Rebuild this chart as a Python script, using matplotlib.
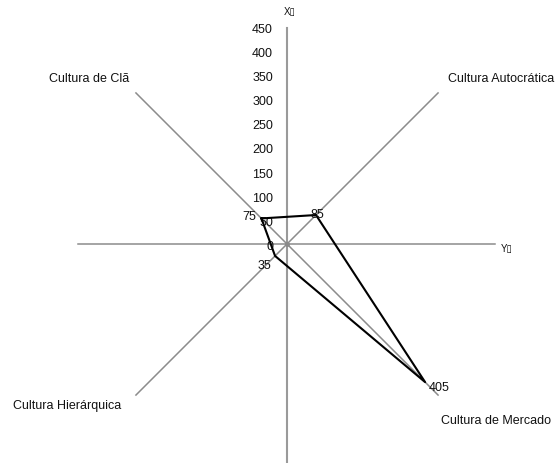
import numpy as np
import matplotlib
matplotlib.use("Agg")
import matplotlib.pyplot as plt

plt.rcParams["font.family"] = ["Liberation Sans", "DejaVu Sans"]

# Data
categories = ["Cultura de Clã", "Cultura Autocrática", "Cultura de Mercado", "Cultura Hierárquica"]
values = [75, 85, 405, 35]
spoke_angles = [135, 45, -45, -135]          # direction of each category spoke (degrees)
tick_values = [0, 50, 100, 150, 200, 250, 300, 350, 400, 450]
axis_titles = ["X\u25af", "Y\u25af"]

W, H = 555, 463
fig = plt.figure(figsize=(W / 100, H / 100), dpi=100)
ax = fig.add_axes([0, 0, 1, 1])

# pixel geometry of the plot: centre and scale (px per unit)
cx, cy = 287, 244
s = 217 / 450
ax.set_xlim(-cx / s, (W - cx) / s)
ax.set_ylim(-(H - cy) / s, cy / s)
ax.axis("off")

def fig_xy(px, py):
    return px / W, 1 - py / H

grey = "#8c8c8c"
# vertical and horizontal axes
ax.plot([0, 0], [-460, 448], color="#9a9a9a", lw=1.5, zorder=1)
ax.plot([-433, 431], [0, 0], color=grey, lw=1.1, zorder=1)
# diagonal spokes
spoke_len = 443
for a in spoke_angles:
    r = np.deg2rad(a)
    ax.plot([0, spoke_len * np.cos(r)], [0, spoke_len * np.sin(r)], color=grey, lw=1.1, zorder=1)
ax.plot([0], [0], "o", color="#8a8a8a", ms=2.5, zorder=2)

# tick labels along the vertical axis
for t in tick_values:
    ax.text(-29, t - 6, str(t), ha="right", va="center", fontsize=9, color="#111111")

# polygon of values
rad = np.deg2rad(spoke_angles)
xs = np.array(values) * np.cos(rad)
ys = np.array(values) * np.sin(rad)
ax.plot(np.append(xs, xs[0]), np.append(ys, ys[0]), color="black", lw=1.5, zorder=3)

# value labels (offset, ha, va)
label_style = [((-4, 1), "right", "center"),
               ((1, 0), "center", "center"),
               ((10, -4), "center", "center"),
               ((-3, -3), "right", "top")]
for x, y, v, (off, ha, va) in zip(xs, ys, values, label_style):
    ax.annotate(str(v), (x, y), xytext=off, textcoords="offset points",
                ha=ha, va=va, fontsize=9, color="#111111", zorder=4)

# category labels
cat_pos = [(89, 79, "center"), (448, 79, "left"), (441, 421, "left"), (13, 406, "left")]
for name, (px, py, ha) in zip(categories, cat_pos):
    fx, fy = fig_xy(px, py)
    fig.text(fx, fy, name, ha=ha, va="center", fontsize=9, color="#111111")

# axis titles
fx, fy = fig_xy(290, 12)
fig.text(fx, fy, axis_titles[0], ha="center", va="center", fontsize=7, color="#111111")
fx, fy = fig_xy(507, 249)
fig.text(fx, fy, axis_titles[1], ha="center", va="center", fontsize=7, color="#111111")

fig.savefig("out.png", dpi=100)
